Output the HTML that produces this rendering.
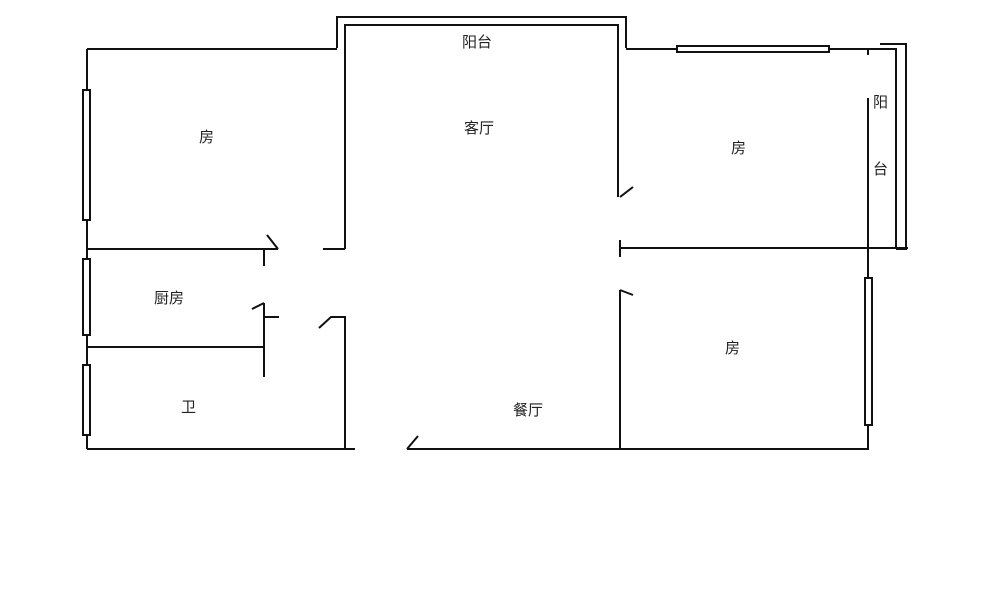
<!DOCTYPE html>
<html><head><meta charset="utf-8"><style>
html,body{margin:0;padding:0;background:#fff;}
svg{display:block;}
text{font-family:"Liberation Sans","Noto Sans CJK SC",sans-serif;font-size:15px;fill:#222;}
</style></head><body>
<svg width="1000" height="594" viewBox="0 0 1000 594" xmlns="http://www.w3.org/2000/svg">
<g stroke="#111" stroke-width="2" fill="none">
<!-- top balcony -->
<polyline points="337,48 337,17 626,17 626,48"/>
<polyline points="345,249 345,25 618,25 618,197"/>
<!-- top walls -->
<line x1="87" y1="49" x2="337" y2="49"/>
<line x1="626" y1="49" x2="880" y2="49"/>
<!-- left wall -->
<line x1="87" y1="49" x2="87" y2="449"/>
<rect x="83" y="90" width="7" height="130" fill="#fff"/>
<rect x="83" y="259" width="7" height="76" fill="#fff"/>
<rect x="83" y="365" width="7" height="70" fill="#fff"/>
<!-- bedroom/kitchen wall -->
<line x1="87" y1="249" x2="278" y2="249"/>
<line x1="267" y1="235" x2="278" y2="249"/>
<line x1="264" y1="249" x2="264" y2="266"/>
<line x1="323" y1="249" x2="345" y2="249"/>
<!-- kitchen/bath -->
<line x1="87" y1="347" x2="264" y2="347"/>
<line x1="264" y1="303" x2="264" y2="377"/>
<line x1="252" y1="309" x2="264" y2="303"/>
<line x1="264" y1="317" x2="279" y2="317"/>
<polyline points="319,328 331,317 345,317 345,449"/>
<!-- bottom wall -->
<line x1="87" y1="449" x2="355" y2="449"/>
<line x1="407" y1="449" x2="869" y2="449"/>
<line x1="407" y1="449" x2="418" y2="436"/>
<!-- right middle walls -->
<line x1="620" y1="197" x2="633" y2="187"/>
<line x1="620" y1="248" x2="908" y2="248"/>
<line x1="620" y1="240" x2="620" y2="257"/>
<line x1="620" y1="290" x2="620" y2="449"/>
<line x1="620" y1="290" x2="633" y2="295"/>
<!-- top right window -->
<rect x="677" y="46" width="152" height="6" fill="#fff"/>
<line x1="868" y1="49" x2="868" y2="55"/>
<!-- right balcony -->
<polyline points="880,44 906,44 906,249 896,249"/>
<polyline points="880,49 896,49 896,249"/>
<line x1="868" y1="98" x2="868" y2="449"/>
<rect x="865" y="278" width="7" height="147" fill="#fff"/>
</g>
<text x="462" y="47">阳台</text>
<text x="464" y="133">客厅</text>
<text x="199" y="142">房</text>
<text x="731" y="153">房</text>
<text x="873" y="107">阳</text>
<text x="873" y="174">台</text>
<text x="154" y="303">厨房</text>
<text x="725" y="353">房</text>
<text x="181" y="412">卫</text>
<text x="513" y="415">餐厅</text>
</svg>
</body></html>
